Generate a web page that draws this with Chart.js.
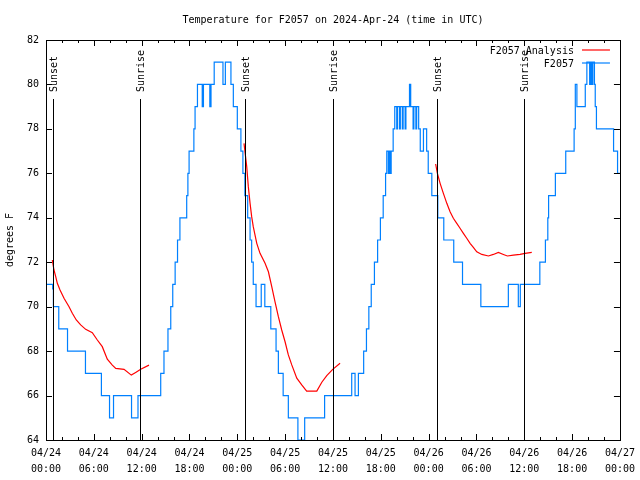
<!DOCTYPE html>
<html><head><meta charset="utf-8">
<script src="https://cdn.jsdelivr.net/npm/chart.js@4.4.0/dist/chart.umd.min.js"></script>
<style>html,body{margin:0;padding:0;background:#fff}#wrap{width:640px;height:480px;position:relative}canvas{display:block}</style>
</head><body><div id="wrap"><canvas id="c" width="640" height="480" style="width:640px;height:480px"></canvas></div>
<script>
const titleText = 'Temperature for F2057 on 2024-Apr-24 (time in UTC)';
const yTitle = 'degrees F';
const seriesNames = ['F2057 Analysis', 'F2057'];
const tickDates = ['04/24','04/24','04/24','04/24','04/25','04/25','04/25','04/25','04/26','04/26','04/26','04/26','04/27'];
const tickTimes = ['00:00','06:00','12:00','18:00','00:00','06:00','12:00','18:00','00:00','06:00','12:00','18:00','00:00'];
const sunHours = [0.93, 11.85, 24.97, 35.95, 49.05, 59.92];
const sunLabels = ['Sunset','Sunrise','Sunset','Sunrise','Sunset','Sunrise'];

// F2057 observations: hours after 04/24 00:00 UTC where the reading changes, and the reading
const blueHours = [0,0.84,0.93,1.6,2.7,4.95,6.95,7.97,8.47,10.73,11.54,14.39,14.8,15.3,15.65,15.9,16.2,16.5,16.8,17.65,17.8,17.95,18.55,18.7,19.0,19.6,19.75,20.55,20.7,21.1,22.2,22.5,23.2,23.5,24.0,24.45,24.7,24.95,25.3,25.6,25.8,26.0,26.35,27.0,27.45,28.2,28.86,29.15,29.75,30.4,31.6,32.45,34.95,38.35,38.77,39.19,39.85,40.2,40.5,40.8,41.2,41.6,41.95,42.3,42.6,42.75,42.95,43.05,43.2,43.3,43.55,43.75,44.0,44.1,44.35,44.45,44.7,44.8,45.05,45.15,45.6,45.75,46.05,46.15,46.4,46.5,46.75,46.95,47.35,47.75,47.95,48.4,49.15,49.9,51.15,52.25,54.55,58.0,59.25,59.5,61.95,62.65,62.95,63.05,63.9,65.2,66.25,66.4,66.6,67.65,67.85,68.2,68.35,68.45,68.6,68.8,68.9,69.05,71.2,71.7,72.0];
const blueTemps = [71,70.8,70,69,68,67,66,65,66,65,66,67,68,69,70,71,72,73,74,75,76,77,78,79,80,79,80,79,80,81,80,81,80,79,78,77,76,75,74,73,72,71,70,71,70,69,68,67,66,65,64,65,66,67,66,67,68,69,70,71,72,73,74,75,76,77,76,77,76,77,78,79,78,79,78,79,78,79,78,79,80,79,78,79,78,79,78,77,78,77,76,75,74,73,72,71,70,71,70,71,72,73,74,75,76,77,78,80,79,80,81,80,81,80,81,80,79,78,77,76,76];

// F2057 Analysis (null separates the three evening-to-morning runs)
const redHours = [0.79,1.0,1.22,1.42,1.76,2.26,2.89,3.3,3.8,4.35,4.98,5.81,6.44,7.06,7.69,8.32,8.75,9.79,10.7,11.25,11.88,12.92,18,
  24.84,25.18,25.38,25.6,25.8,26.0,26.44,26.85,27.48,27.9,28.32,28.73,29.15,29.57,29.99,30.4,30.83,31.46,32.08,32.7,33.97,34.6,35.22,35.97,36.89,42,
  48.88,49.1,49.44,49.85,50.28,50.69,51.1,51.53,51.94,52.36,52.78,53.2,53.61,54.04,54.67,55.5,56.12,56.75,57.38,57.88,58.63,59.47,60.1,60.94];
const redTemps = [72.1,71.65,71.35,71.05,70.75,70.38,70.0,69.7,69.4,69.18,68.98,68.83,68.5,68.2,67.64,67.37,67.22,67.18,66.92,67.04,67.18,67.37,null,
  77.35,76.3,75.4,74.65,74.05,73.6,72.85,72.4,71.95,71.57,70.9,70.22,69.55,68.95,68.42,67.83,67.38,66.78,66.48,66.2,66.2,66.6,66.9,67.18,67.45,null,
  76.42,76.0,75.55,75.1,74.65,74.27,73.98,73.75,73.53,73.3,73.08,72.85,72.67,72.47,72.35,72.28,72.35,72.44,72.35,72.28,72.32,72.35,72.4,72.44];

const FONT = 'DejaVu Sans Mono';
const RED = '#ff0000';
const BLUE = '#0080ff';

const decor = {
  id: 'decor',
  afterDatasetsDraw(chart) {
    const ctx = chart.ctx, a = chart.chartArea;
    const xs = chart.scales.x, ys = chart.scales.y;
    ctx.save();
    ctx.strokeStyle = '#000';
    ctx.lineWidth = 1;
    ctx.fillStyle = '#000';
    ctx.font = '10px "' + FONT + '"';
    // sunrise / sunset markers
    sunHours.forEach((h, i) => {
      const px = Math.round(xs.getPixelForValue(h)) + 0.5;
      ctx.beginPath();
      ctx.moveTo(px, a.top + 59);
      ctx.lineTo(px, a.bottom);
      ctx.stroke();
      ctx.save();
      ctx.translate(px + 1, a.top + 52);
      ctx.rotate(-Math.PI / 2);
      ctx.textAlign = 'left';
      ctx.textBaseline = 'middle';
      ctx.fillText(sunLabels[i], 0, 0);
      ctx.restore();
    });
    // border
    ctx.strokeRect(Math.round(a.left) + 0.5, Math.round(a.top) + 0.5, Math.round(a.right - a.left), Math.round(a.bottom - a.top));
    // tick marks (inward, mirrored)
    ctx.beginPath();
    for (let h = xs.min; h <= xs.max; h += 2) {
      const px = Math.round(xs.getPixelForValue(h)) + 0.5;
      const len = (h % 6 === 0) ? 6 : 3;
      ctx.moveTo(px, a.bottom); ctx.lineTo(px, a.bottom - len);
      ctx.moveTo(px, a.top); ctx.lineTo(px, a.top + len);
    }
    ys.ticks.forEach(t => {
      const py = Math.round(ys.getPixelForValue(t.value)) + 0.5;
      ctx.moveTo(a.left, py); ctx.lineTo(a.left + 6, py);
      ctx.moveTo(a.right, py); ctx.lineTo(a.right - 6, py);
    });
    ctx.stroke();
    // title
    ctx.textAlign = 'center';
    ctx.textBaseline = 'middle';
    ctx.fillText(titleText, (a.left + a.right) / 2, 20);
    // legend (text left of sample line)
    const colors = [RED, BLUE];
    seriesNames.forEach((name, i) => {
      const y = a.top + 10 + i * 13;
      ctx.fillStyle = '#000';
      ctx.textAlign = 'right';
      ctx.fillText(name, a.right - 46, y + 1);
      ctx.strokeStyle = colors[i];
      ctx.lineWidth = 1.2;
      ctx.beginPath();
      ctx.moveTo(a.right - 38, y); ctx.lineTo(a.right - 10, y);
      ctx.stroke();
    });
    ctx.restore();
  }
};

new Chart(document.getElementById('c'), {
  type: 'line',
  data: {
    datasets: [
      {
        label: seriesNames[0],
        data: redHours.map((h, i) => ({x: h, y: redTemps[i]})),
        borderColor: RED, borderWidth: 1.2, pointRadius: 0, tension: 0, spanGaps: false, fill: false
      },
      {
        label: seriesNames[1],
        data: blueHours.map((h, i) => ({x: h, y: blueTemps[i]})),
        borderColor: BLUE, borderWidth: 1.2, pointRadius: 0, stepped: 'before', fill: false
      }
    ]
  },
  options: {
    responsive: false,
    animation: false,
    devicePixelRatio: 1,
    layout: {padding: {top: 40, right: 20, left: 0, bottom: 0}},
    plugins: {legend: {display: false}, title: {display: false}, tooltip: {enabled: false}},
    scales: {
      x: {
        type: 'linear', min: 0, max: 72,
        grid: {display: false, drawTicks: false, tickLength: 0},
        border: {display: false},
        ticks: {
          stepSize: 6, autoSkip: false, maxRotation: 0, minRotation: 0, padding: 5,
          color: '#000', font: {family: FONT, size: 10, lineHeight: '16px'},
          callback: (v) => { const i = Math.round(v / 6); return [tickDates[i], tickTimes[i]]; }
        },
        afterFit: (s) => { s.height = 40; }
      },
      y: {
        min: 64, max: 82,
        grid: {display: false, drawTicks: false, tickLength: 0},
        border: {display: false},
        ticks: {stepSize: 2, padding: 7, color: '#000', font: {family: FONT, size: 10}},
        title: {display: true, text: yTitle, color: '#000', font: {family: FONT, size: 10}, padding: {top: 4, bottom: 0}},
        afterFit: (s) => { s.width = 46; }
      }
    }
  },
  plugins: [decor]
});
</script>
</body></html>
